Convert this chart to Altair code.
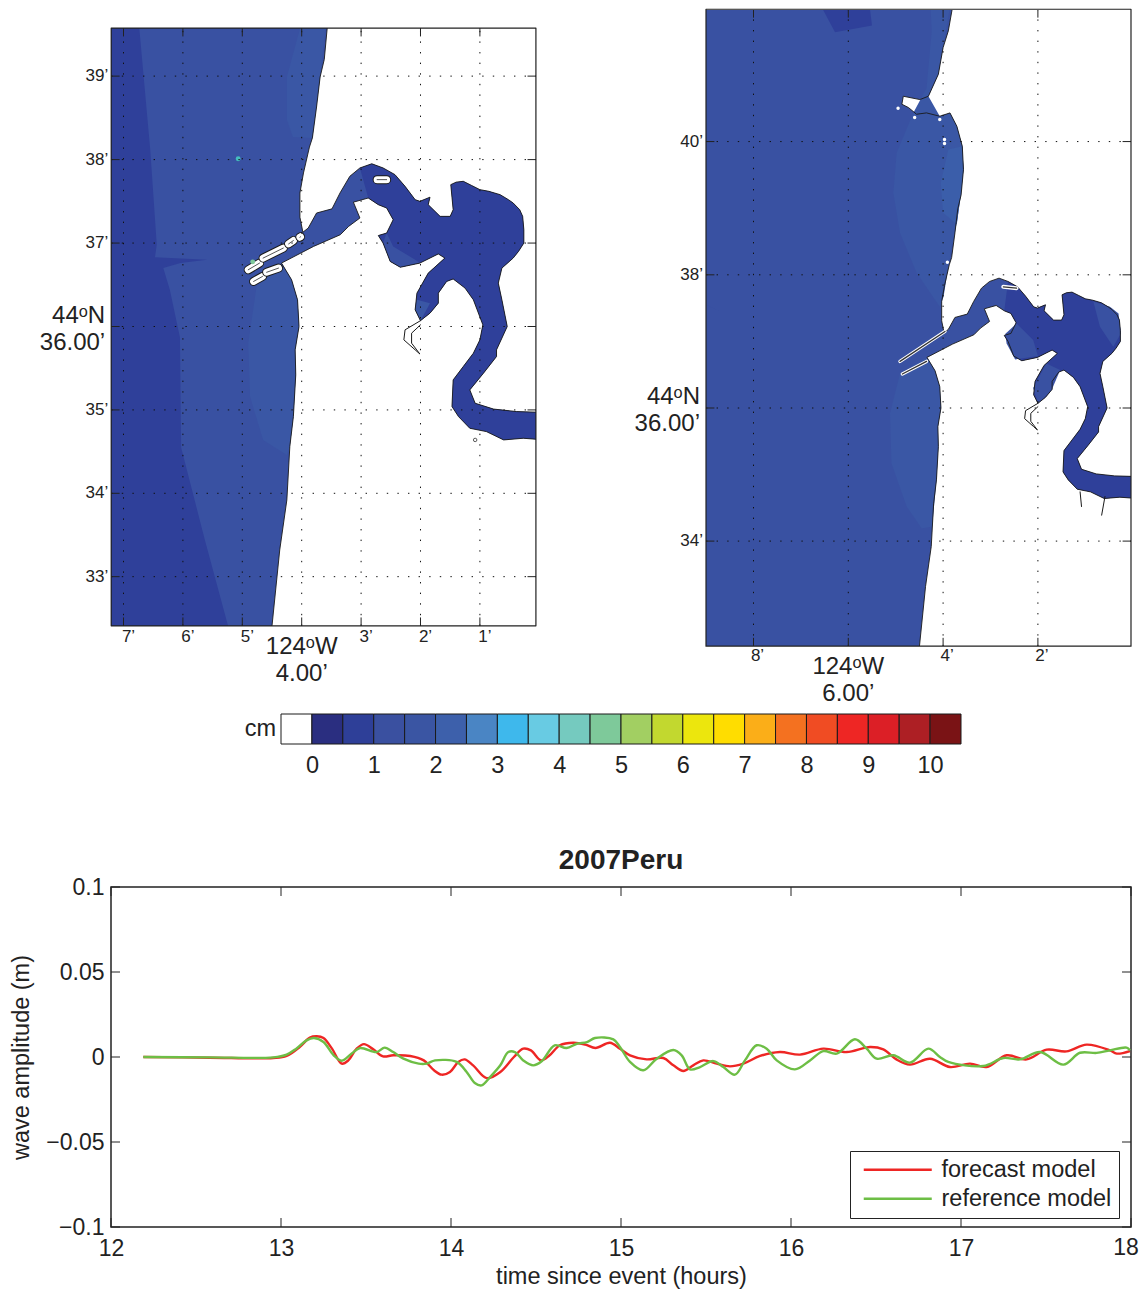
import altair as alt
import pandas as pd

# ---- hydrograph values (hours, metres)
red_t = [12.19,12.58,12.955,13.033,13.11,13.17,13.21,13.25,13.30,13.357,13.396,13.445,13.488,13.543,13.60,13.66,13.76,13.84,13.90,13.945,13.994,14.043,14.08,14.13,14.21,14.29,14.37,14.425,14.47,14.53,14.58,14.64,14.72,14.79,14.85,14.935,14.994,15.053,15.151,15.249,15.308,15.367,15.425,15.484,15.563,15.641,15.72,15.818,15.935,16.053,16.19,16.327,16.465,16.543,16.62,16.70,16.818,16.935,17.053,17.151,17.269,17.386,17.504,17.62,17.739,17.876,17.916,17.994]
red_a = [0,-.0004,-.0006,.0006,.0059,.0114,.0122,.0112,.0049,-.0039,-.002,.0049,.0076,.0045,.0004,.001,.0006,-.002,-.0078,-.0104,-.0088,-.0029,-.0014,-.0049,-.0124,-.0088,0,.0049,.0039,-.002,.001,.0069,.0084,.0073,.0053,.0084,.0049,.001,-.0014,-.0006,-.0049,-.0082,-.0049,-.002,-.0039,-.0055,-.0039,.0006,.0029,.0014,.0049,.0029,.0059,.0045,-.0014,-.0045,-.001,-.0059,-.0039,-.0059,.001,-.0014,.0043,.0033,.0073,.0039,.002,.0035]
green_t = [12.19,12.58,12.955,13.033,13.09,13.15,13.194,13.25,13.31,13.357,13.416,13.465,13.563,13.61,13.66,13.72,13.81,13.857,13.906,14.033,14.092,14.14,14.18,14.23,14.29,14.337,14.376,14.425,14.484,14.533,14.61,14.68,14.74,14.80,14.847,14.955,14.994,15.053,15.131,15.21,15.308,15.357,15.406,15.465,15.543,15.602,15.67,15.729,15.798,15.857,15.916,16.023,16.112,16.19,16.269,16.376,16.445,16.504,16.602,16.70,16.808,16.876,16.925,17.131,17.249,17.347,17.465,17.602,17.70,17.798,17.876,17.974,17.994]
green_a = [0,-.0002,-.0002,.0014,.0049,.0098,.0112,.0088,.001,-.0022,.002,.0053,.0029,.0055,.0029,-.001,-.0039,-.0039,-.002,-.0029,-.0088,-.0153,-.0167,-.0118,-.0049,.0029,.0029,-.002,-.0049,-.0025,.0069,.0053,.0078,.0088,.0112,.0104,.0059,-.0029,-.0078,-.001,.0041,.001,-.0073,-.0059,-.0024,-.0059,-.0104,-.002,.0069,.0049,-.002,-.0073,-.002,.0035,.002,.0104,.0049,-.001,.001,-.0033,.0049,0,-.0029,-.0053,-.0006,-.0014,.0029,-.0045,.0025,.0024,.0039,.0055,.0039]
series_names = ["forecast model", "reference model"]
series_colors = ["#EE2624", "#6DBE45"]

# ---- colour bar
bar_colors = ["#FFFFFF","#2A2E80","#2E3F98","#3A50A0","#3A55A3","#3D60AB","#4A85C4","#3EB8EC","#68CBE3","#75CABF","#7EC99A","#A2CF62","#C2D82F","#ECE60D","#FFDD00","#FBAE18","#F47120","#F04C23","#EE2624","#DC1F26","#AD1F24","#7A1315"]
bar_ticks = [0,1,2,3,4,5,6,7,8,9,10]

# ---- geography: (minutes west of 124W, minutes north of 44N)
coast_north = [(3.78,42.3),(3.81,41.98),(3.89,41.66),(4.00,41.41),(4.10,41.01),(4.31,40.68),(4.49,40.63),(4.84,40.68),(4.87,40.56),(4.73,40.51),(4.56,40.41),(4.35,40.43),(4.07,40.38),(3.855,40.43),(3.71,40.23),(3.595,39.93),(3.57,39.58),(3.62,39.20),(3.69,38.99),(3.75,38.63),(3.82,38.26),(3.87,38.15),(3.97,37.84),(4.03,37.60),(4.03,37.31),(3.98,37.13)]
mouth_north = [(3.89,37.18),(3.75,37.36),(3.49,37.41),(3.355,37.60),(3.19,37.80)]
bay_north = [(3.02,37.90),(2.82,37.95)]
bay_east = [(2.63,37.90),(2.43,37.82),(2.26,37.68),(2.09,37.52),(2.01,37.50),(1.84,37.55),(1.87,37.46),(1.67,37.32),(1.50,37.32),(1.45,37.40),(1.49,37.70),(1.40,37.73),(1.28,37.74),(1.14,37.69),(1.00,37.64),(0.85,37.62),(0.66,37.58),(0.52,37.52),(0.44,37.48),(0.33,37.40),(0.28,37.32),(0.26,37.16),(0.26,37.00),(0.35,36.90),(0.44,36.82),(0.63,36.70),(0.69,36.52),(0.63,36.32),(0.54,36.00),(0.72,35.72),(0.72,35.64),(0.94,35.44),(1.17,35.24),(1.08,35.08),(0.77,35.01),(0.38,34.98),(-0.1,34.97),(-0.1,34.64),(0.27,34.66),(0.60,34.64),(0.89,34.74),(1.17,34.78),(1.36,34.92),(1.47,35.04),(1.45,35.36),(1.28,35.52),(1.11,35.68),(1.00,35.84),(0.95,36.02),(1.11,36.32),(1.25,36.46),(1.45,36.57),(1.56,36.54),(1.70,36.40),(1.70,36.28),(1.84,36.16),(2.00,36.07),(2.09,36.20),(2.06,36.40),(1.87,36.64),(1.59,36.82),(1.70,36.87),(2.01,36.76),(2.34,36.71),(2.51,36.78),(2.63,37.00),(2.71,37.09),(2.57,37.12),(2.46,37.28),(2.57,37.42),(2.71,37.46)]
bay_south = [(2.88,37.54),(3.13,37.49),(3.02,37.30)]
mouth_south = [(3.21,37.20),(3.35,37.10),(3.80,36.96),(4.34,36.76)]
coast_south = [(4.17,36.56),(4.07,36.32),(4.045,36.00),(4.11,35.72),(4.10,35.42),(4.14,34.92),(4.20,34.56),(4.25,33.92),(4.37,33.32),(4.50,32.41),(4.55,32.2)]
west_edge = [(9.6,32.2),(9.6,42.3)]
slough = [(2.00,36.07),(2.26,35.96),(2.28,35.84),(2.09,35.72),(2.01,35.67),(2.15,35.80),(2.15,35.92),(2.00,36.02)]
creek_a = [(1.11,34.74),(1.08,34.52)]
creek_b = [(0.585,34.67),(0.655,34.39)]

# left panel detail
left_dark_band = [(6.75,39.7),(6.55,38.12),(6.44,36.98),(6.47,36.83),(5.59,36.80),(6.04,36.76),(6.33,36.70),(6.22,36.44),(6.05,35.87),(6.03,34.55),(5.63,33.44),(5.24,32.41),(5.2,32.3),(7.6,32.3),(7.6,39.7)]
left_patch_n = [(3.98,39.7),(4.25,38.99),(4.25,38.48),(4.15,38.27),(3.82,38.26),(3.69,38.99),(3.58,39.7)]
left_patch_s = [(4.76,36.48),(4.90,35.80),(4.87,35.16),(4.65,34.64),(4.25,34.46),(4.20,34.56),(4.14,34.92),(4.10,35.42),(4.11,35.72),(4.045,36.00),(4.07,36.32),(4.17,36.56),(4.34,36.76)]
left_cove = [(2.57,37.12),(2.46,36.96),(2.09,36.80),(2.01,36.76),(2.34,36.71),(2.51,36.78),(2.63,37.00)]
left_arm = [(2.06,36.32),(1.84,36.28),(2.00,36.07),(2.09,36.20)]
left_jetties = [[(4.90,36.68),(4.71,36.76)],[(4.65,36.82),(4.31,36.94)],[(4.22,36.99),(4.14,37.03)],[(4.03,37.07),(4.02,37.075)],[(4.81,36.54),(4.66,36.60)],[(4.59,36.65),(4.39,36.70)],[(2.73,37.76),(2.57,37.76)]]
left_spots = [(5.07,38.01,"#45BDBE"),(4.825,36.775,"#7FC99A")]
left_islet = [(1.08,34.64)]

# right panel detail
right_dark_tri = [(9.6,37.75),(8.70,37.45),(9.00,37.55),(9.6,37.9)]
right_dark_top = [(6.70,42.2),(6.28,41.64),(5.50,41.74),(5.58,42.2)]
right_patch_n = [(4.28,42.2),(4.24,41.66),(4.35,40.8),(4.63,40.43),(4.98,39.83),(5.05,39.23),(4.91,38.63),(4.56,38.03),(4.07,37.52),(3.99,37.67),(3.91,38.03),(3.82,38.43),(3.71,38.78),(3.64,39.13),(3.57,39.58),(3.595,39.93),(3.71,40.23),(3.855,40.43),(4.07,40.38),(4.31,40.68),(4.10,41.01),(3.81,42.2)]
right_patch_in = [(3.89,39.88),(4.05,39.38),(4.00,38.93),(3.71,38.76),(3.64,39.13),(3.57,39.58),(3.595,39.93)]
right_patch_s = [(4.91,36.52),(5.12,35.92),(5.09,35.17),(4.77,34.52),(4.45,34.19),(4.23,34.22),(4.14,34.92),(4.10,35.42),(4.11,35.72),(4.045,36.00),(4.07,36.32),(4.17,36.56),(4.34,36.76)]
right_cove = [(2.45,37.27),(2.10,37.02),(2.00,36.78),(2.48,36.73),(2.66,36.97),(2.69,37.11)]
right_lobe = [(0.83,37.60),(0.69,37.22),(0.41,36.92),(0.25,37.12),(0.30,37.42),(0.48,37.52)]
right_arm = [(1.53,36.57),(1.71,36.27),(1.99,36.07),(2.10,36.30),(1.82,36.67)]
right_jetties = [[(3.96,37.15),(4.91,36.70)],[(4.35,36.70),(4.86,36.51)]]
right_bar = [(2.73,37.82),(2.45,37.80)]
right_islets = [(3.97,40.03),(3.97,39.97),(3.91,38.19),(4.07,40.33),(4.95,40.50),(4.60,40.36)]

# ---- panel set-ups
C_DARK, C_MED, C_LIGHT, C_LIGHTER = "#2F409A", "#3951A2", "#3A57A5", "#3B5EAA"
INK = "#222222"
FONT = "Liberation Sans"
L_LON, L_LAT = (7.207, 0.057), (32.41, 39.576)
R_LON, R_LAT = (9.002, 0.036), (32.42, 41.985)


def deg(p):
    return [-(124 + p[0] / 60), 44 + p[1] / 60]


def ring(points):
    pts = [deg(p) for p in points]
    pts.append(pts[0])
    area = sum(a[0] * b[1] - b[0] * a[1] for a, b in zip(pts, pts[1:]))
    return pts[::-1] if area > 0 else pts


def poly(points, fill, proj, stroke=None, sw=0.9):
    feat = {"type": "Feature", "properties": {}, "geometry": {"type": "Polygon", "coordinates": [ring(points)]}}
    kw = dict(fill=fill, clip=True)
    kw.update(stroke=stroke, strokeWidth=sw) if stroke else kw.update(strokeWidth=0)
    return alt.Chart(alt.Data(values=[feat])).mark_geoshape(**kw).project(**proj)


def path(points, color, width, proj, clip=True, dash=None):
    feat = {"type": "Feature", "properties": {}, "geometry": {"type": "LineString", "coordinates": [deg(p) for p in points]}}
    kw = dict(filled=False, stroke=color, strokeWidth=width, clip=clip, strokeCap="round", strokeJoin="round")
    if dash:
        kw.update(strokeDash=dash, strokeCap="butt")
    return alt.Chart(alt.Data(values=[feat])).mark_geoshape(**kw).project(**proj)


def label(rows, proj, size, align, dx, dy):
    data = [{"lon": deg((r[0], r[1]))[0], "lat": deg((r[0], r[1]))[1], "t": r[2]} for r in rows]
    return (alt.Chart(alt.Data(values=data))
            .mark_text(font=FONT, fontSize=size, color=INK, align=align, baseline="middle", dx=dx, dy=dy, clip=False)
            .encode(longitude="lon:Q", latitude="lat:Q", text="t:N").project(**proj))


def grid_ticks(lons, lats, lon_rng, lat_rng, tlon, tlat, proj):
    out = []
    dash = [1.4, 9.2]
    for v in lons:
        out.append(path([(v, lat_rng[0]), (v, lat_rng[1])], "#111111", 1, proj, dash=dash))
        out.append(path([(v, lat_rng[0]), (v, lat_rng[0] + tlat)], INK, 1, proj))
        out.append(path([(v, lat_rng[1]), (v, lat_rng[1] - tlat)], INK, 1, proj))
    for v in lats:
        out.append(path([(lon_rng[0], v), (lon_rng[1], v)], "#111111", 1, proj, dash=dash))
        out.append(path([(lon_rng[0], v), (lon_rng[0] - tlon, v)], INK, 1, proj))
        out.append(path([(lon_rng[1], v), (lon_rng[1] + tlon, v)], INK, 1, proj))
    return out


def frame(lon_rng, lat_rng, proj):
    return path([(lon_rng[0], lat_rng[0]), (lon_rng[1], lat_rng[0]), (lon_rng[1], lat_rng[1]),
                 (lon_rng[0], lat_rng[1]), (lon_rng[0], lat_rng[0])], INK, 1.2, proj, clip=False)


water = coast_north + mouth_north + bay_north + bay_east + bay_south + mouth_south + coast_south + west_edge

# ---- left map
pL = dict(type="mercator", center=deg((4, 36)), translate=[190.7, 298.5], scale=204200)
left_layers = [
    poly(water, C_MED, pL),
    poly(left_dark_band, C_DARK, pL),
    poly(left_patch_n, C_LIGHT, pL),
    poly(left_patch_s, C_LIGHT, pL),
    poly(bay_north + bay_east + bay_south[:1], C_DARK, pL),
    poly(left_cove, C_MED, pL),
    poly(left_arm, C_LIGHT, pL),
    poly(water, "transparent", pL, stroke="#1a1a1a", sw=0.9),
    path(slough, "#1a1a1a", 1, pL),
]
for j in left_jetties:
    left_layers.append(path(j, "#1a1a1a", 9, pL))
    left_layers.append(path(j, "#FFFFFF", 7, pL))
    left_layers.append(path(j, "#555555", 1, pL))
left_layers.append(alt.Chart(alt.Data(values=[{"lon": deg(p[:2])[0], "lat": deg(p[:2])[1], "c": p[2]} for p in left_spots]))
                   .mark_point(filled=True, size=24, opacity=1).encode(longitude="lon:Q", latitude="lat:Q", color=alt.Color("c:N", scale=None)).project(**pL))
left_layers.append(alt.Chart(alt.Data(values=[{"lon": deg(p)[0], "lat": deg(p)[1]} for p in left_islet]))
                   .mark_point(size=12, color="#111111", strokeWidth=1).encode(longitude="lon:Q", latitude="lat:Q").project(**pL))
left_lons = [7, 6, 5, 4, 3, 2, 1]
left_lats = [33, 34, 35, 36, 37, 38, 39]
left_layers += grid_ticks(left_lons, left_lats, L_LON, L_LAT, 0.135, 0.096, pL)
left_layers.append(frame(L_LON, L_LAT, pL))
left_layers += [
    label([(L_LON[0], v, f"{v}’") for v in [39, 38, 37, 35, 34, 33]], pL, 17, "right", -3, 0),
    label([(v, L_LAT[0], f"{v}’") for v in [7, 6, 5, 3, 2, 1]], pL, 17, "center", 5, 11),
    label([(4, L_LAT[0], "124ᵒW")], pL, 24, "center", 0, 21),
    label([(4, L_LAT[0], "4.00’")], pL, 24, "center", 0, 48),
    label([(L_LON[0], 36, "44ᵒN")], pL, 24, "right", -6, -11),
    label([(L_LON[0], 36, "36.00’")], pL, 24, "right", -6, 16),
]
left_map = alt.layer(*left_layers).properties(width=425, height=598)

# ---- right map
pR = dict(type="mercator", center=deg((6, 36)), translate=[142.3, 398], scale=162950)
right_layers = [
    poly(water, C_MED, pR),
    poly(right_dark_tri, C_DARK, pR),
    poly(right_dark_top, C_DARK, pR),
    poly(right_patch_n, C_LIGHT, pR),
    poly(right_patch_in, C_LIGHTER, pR),
    poly(right_patch_s, C_LIGHT, pR),
    poly(bay_east, C_DARK, pR),
    poly(right_cove, C_MED, pR),
    poly(right_lobe, C_MED, pR),
    poly(right_arm, C_MED, pR),
    poly(water, "transparent", pR, stroke="#1a1a1a", sw=0.9),
    path(slough, "#1a1a1a", 1, pR),
    path(creek_a, "#1a1a1a", 1, pR),
    path(creek_b, "#1a1a1a", 1, pR),
    path(right_bar, "#FFFFFF", 4, pR),
    path(right_bar, "#333333", 1.2, pR),
]
for j in right_jetties:
    right_layers.append(path(j, "#FFFFFF", 3.4, pR))
    right_layers.append(path(j, "#333333", 1.3, pR))
right_layers.append(alt.Chart(alt.Data(values=[{"lon": deg(p)[0], "lat": deg(p)[1]} for p in right_islets]))
                    .mark_point(filled=True, size=12, color="#FFFFFF", opacity=1).encode(longitude="lon:Q", latitude="lat:Q").project(**pR))
right_lons = [8, 6, 4, 2]
right_lats = [34, 36, 38, 40]
right_layers += grid_ticks(right_lons, right_lats, R_LON, R_LAT, 0.169, 0.12, pR)
right_layers.append(frame(R_LON, R_LAT, pR))
right_layers += [
    label([(R_LON[0], v, f"{v}’") for v in [40, 38, 34]], pR, 17, "right", -3, 0),
    label([(v, R_LAT[0], f"{v}’") for v in [8, 4, 2]], pR, 17, "center", 4, 10),
    label([(6, R_LAT[0], "124ᵒW")], pR, 24, "center", 0, 21),
    label([(6, R_LAT[0], "6.00’")], pR, 24, "center", 0, 48),
    label([(R_LON[0], 36, "44ᵒN")], pR, 24, "right", -6, -11),
    label([(R_LON[0], 36, "36.00’")], pR, 24, "right", -6, 16),
]
right_map = alt.layer(*right_layers).properties(width=425, height=636)


def spacer(w, h):
    return (alt.Chart(alt.Data(values=[{"a": 1}])).mark_point(opacity=0)
            .encode(x=alt.value(0), y=alt.value(0)).properties(width=w, height=h))


left_col = alt.vconcat(spacer(425, 1), left_map, spacing=17, bounds="flush")
maps = alt.hconcat(left_col, right_map, spacing=97)

# ---- colour bar
bar_df = pd.DataFrame({"v0": [-0.5 + 0.5 * i for i in range(len(bar_colors))],
                       "v1": [0.5 * i for i in range(len(bar_colors))],
                       "c": bar_colors})
bar_x = alt.X("v0:Q", title=None, scale=alt.Scale(domain=[-0.5, 10.5], range=[170, 850], nice=False, zero=False),
              axis=alt.Axis(values=bar_ticks, domain=False, ticks=False, grid=False, labelFontSize=23.5, labelFont=FONT,
                            labelColor=INK, labelPadding=9, format="d", labelFlush=False, labelOverlap=False))
bar_rect = (alt.Chart(bar_df).mark_rect(stroke="#1a1a1a", strokeWidth=1)
            .encode(x=bar_x, x2="v1:Q", fill=alt.Fill("c:N", scale=None)))
bar_unit = (alt.Chart(alt.Data(values=[{"v": -0.5, "t": "cm"}]))
            .mark_text(font=FONT, fontSize=23.5, color=INK, align="right", baseline="middle", dx=-5)
            .encode(x=alt.X("v:Q"), y=alt.value(15), text="t:N"))
colorbar = alt.layer(bar_rect, bar_unit).properties(width=1020, height=30)

# ---- hydrograph
wave_df = pd.concat([
    pd.DataFrame({"t": red_t, "a": red_a, "s": series_names[0]}),
    pd.DataFrame({"t": green_t, "a": green_a, "s": series_names[1]}),
])
xticks = [12, 13, 14, 15, 16, 17, 18]
yticks = [-0.1, -0.05, 0, 0.05, 0.1]
xs = alt.Scale(domain=[12, 18], nice=False, zero=False)
ys = alt.Scale(domain=[-0.1, 0.1], nice=False, zero=False)
x_axis = alt.Axis(values=xticks, grid=False, ticks=False, domain=False, labelFontSize=23, labelFont=FONT,
                  labelColor=INK, labelPadding=10, titleFontSize=23.5, titleFont=FONT, titleColor=INK,
                  titleFontWeight="normal", titlePadding=4, labelFlush=False,
                  labelExpr="datum.value == 18 ? '' : datum.label")
y_axis = alt.Axis(values=yticks, grid=False, ticks=False, domain=False, labelFontSize=23, labelFont=FONT,
                  labelColor=INK, labelPadding=7, titleFontSize=23.5, titleFont=FONT, titleColor=INK,
                  titleFontWeight="normal", titlePadding=12, format=".2~f", labelFlush=False)
x_enc = alt.X("t:Q", scale=xs, title="time since event (hours)", axis=x_axis)
y_enc = alt.Y("a:Q", scale=ys, title="wave amplitude (m)", axis=y_axis)
wave = (alt.Chart(wave_df).mark_line(interpolate="catmull-rom", strokeWidth=2.4)
        .encode(
            x=x_enc, y=y_enc,
            color=alt.Color("s:N", scale=alt.Scale(domain=series_names, range=series_colors),
                            legend=alt.Legend(title=None, orient="none", legendX=739, legendY=1141,
                                              symbolType="M-6.8,0H6.8", symbolSize=100, symbolStrokeWidth=2.4,
                                              symbolOffset=29, padding=7, labelFontSize=23.5, labelFont=FONT,
                                              labelColor=INK, labelOffset=32, labelLimit=400, rowPadding=4,
                                              strokeColor=INK, fillColor="#FFFFFF")),
        ))
tick_x = pd.DataFrame({"t": xticks})
tick_y = pd.DataFrame({"a": yticks})
tick_layers = []
for lo, hi in [(340, 331), (0, 9)]:
    tick_layers.append(alt.Chart(tick_x).mark_rule(color=INK, strokeWidth=1)
                       .encode(x=x_enc, y=alt.value(lo), y2=alt.value(hi)))
for lo, hi in [(0, 9), (1020, 1011)]:
    tick_layers.append(alt.Chart(tick_y).mark_rule(color=INK, strokeWidth=1)
                       .encode(y=y_enc, x=alt.value(lo), x2=alt.value(hi)))
last_tick = (alt.Chart(pd.DataFrame({"t": [18], "l": ["18"]}))
             .mark_text(font=FONT, fontSize=23, color=INK, align="center", baseline="middle", dx=-5, dy=21)
             .encode(x=x_enc, y=alt.value(340), text="l:N"))
hydro = (alt.layer(*tick_layers, wave, last_tick)
         .properties(width=1020, height=340,
                     title=alt.TitleParams("2007Peru", fontSize=28, font=FONT, fontWeight="bold", color=INK, offset=1),
                     view=alt.ViewBackground(stroke=INK, strokeWidth=1.5)))

chart = (alt.vconcat(maps, colorbar, spacer(1020, 52), hydro, spacing=6)
         .properties(padding={"left": 1, "top": -2, "right": 0, "bottom": 2})
         .configure_view(stroke="transparent"))

chart.save("out.html", embed_options={"renderer": "svg", "actions": False})
